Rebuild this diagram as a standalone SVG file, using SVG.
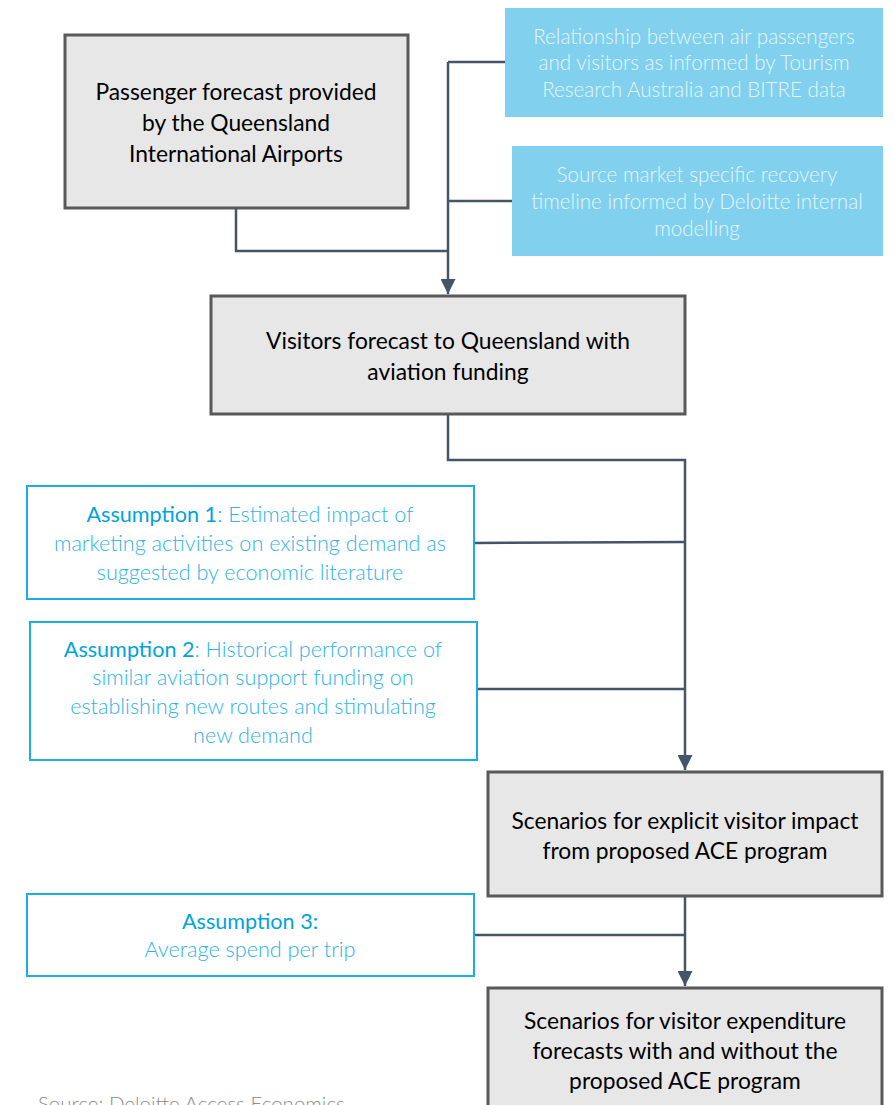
<svg xmlns="http://www.w3.org/2000/svg" width="894" height="1105" viewBox="0 0 894 1105">
<style>
.gray{fill:#e7e7e7;stroke:#595959;stroke-width:3}
.sky{fill:#80d0ee}
.asm{fill:#fff;stroke:#1aaee5;stroke-width:2}
.dark{font-family:Lato,"Liberation Sans",sans-serif;font-size:22.8px;fill:#000;text-anchor:middle}
.lt{font-family:Lato,"Liberation Sans",sans-serif;font-weight:300;font-size:20.6px;fill:#e6f6fc;text-anchor:middle}
.bl{font-family:Lato,"Liberation Sans",sans-serif;font-weight:300;font-size:21.6px;fill:#2db4e8;text-anchor:middle}
.bh{font-weight:400;fill:#00a3e0}
.src{font-family:Lato,"Liberation Sans",sans-serif;font-weight:300;font-size:20.5px;fill:#8c8c8c}
.con{fill:none;stroke:#44546a;stroke-width:2.5}
</style>
<defs>
<marker id="ah" viewBox="0 0 10 10" refX="10" refY="5" markerWidth="6" markerHeight="6" markerUnits="strokeWidth" orient="auto">
<path d="M0,0 L10,5 L0,10 z" fill="#44546a"/>
</marker>
</defs>
<g id="connectors">
<polyline class="con" points="236,208 236,251 448,251"/>
<line class="con" x1="505" y1="62" x2="448" y2="62"/>
<line class="con" x1="512" y1="201" x2="448" y2="201"/>
<line class="con" x1="448" y1="62" x2="448" y2="294" marker-end="url(#ah)"/>
<polyline class="con" points="448,414 448,460 685,460 685,770" marker-end="url(#ah)"/>
<line class="con" x1="474" y1="543" x2="685" y2="542"/>
<line class="con" x1="477" y1="689" x2="685" y2="689"/>
<line class="con" x1="685" y1="896" x2="685" y2="986" marker-end="url(#ah)"/>
<line class="con" x1="474" y1="935" x2="685" y2="935"/>
</g>
<g id="n1">
<rect class="gray" x="65" y="35" width="343" height="173"/>
<text class="dark" x="236" y="100">Passenger forecast provided</text>
<text class="dark" x="236" y="131">by the Queensland</text>
<text class="dark" x="236" y="162">International Airports</text>
</g>
<g id="s1">
<rect class="sky" x="505" y="8" width="378" height="109"/>
<text class="lt" x="694" y="44">Relationship between air passengers</text>
<text class="lt" x="694" y="70">and visitors as informed by Tourism</text>
<text class="lt" x="694" y="97">Research Australia and BITRE data</text>
</g>
<g id="s2">
<rect class="sky" x="512" y="146" width="371" height="110"/>
<text class="lt" x="697" y="182">Source market specific recovery</text>
<text class="lt" x="697" y="209">timeline informed by Deloitte internal</text>
<text class="lt" x="697" y="236">modelling</text>
</g>
<g id="n2">
<rect class="gray" x="211" y="296" width="474" height="118"/>
<text class="dark" x="448" y="349">Visitors forecast to Queensland with</text>
<text class="dark" x="448" y="380">aviation funding</text>
</g>
<g id="a1">
<rect class="asm" x="27" y="486" width="447" height="113"/>
<text class="bl" x="250" y="522"><tspan class="bh">Assumption 1</tspan>: Estimated impact of</text>
<text class="bl" x="250" y="551">marketing activities on existing demand as</text>
<text class="bl" x="250" y="580">suggested by economic literature</text>
</g>
<g id="a2">
<rect class="asm" x="30" y="622" width="447" height="138"/>
<text class="bl" x="253" y="657"><tspan class="bh">Assumption 2</tspan>: Historical performance of</text>
<text class="bl" x="253" y="685">similar aviation support funding on</text>
<text class="bl" x="253" y="714">establishing new routes and stimulating</text>
<text class="bl" x="253" y="743">new demand</text>
</g>
<g id="n3">
<rect class="gray" x="488" y="772" width="394" height="124"/>
<text class="dark" x="685" y="829">Scenarios for explicit visitor impact</text>
<text class="dark" x="685" y="859">from proposed ACE program</text>
</g>
<g id="a3">
<rect class="asm" x="27" y="894" width="447" height="82"/>
<text class="bl" x="250" y="929"><tspan class="bh">Assumption 3:</tspan></text>
<text class="bl" x="250" y="957">Average spend per trip</text>
</g>
<g id="n4">
<rect class="gray" x="488" y="988" width="394" height="130"/>
<text class="dark" x="685" y="1029">Scenarios for visitor expenditure</text>
<text class="dark" x="685" y="1059">forecasts with and without the</text>
<text class="dark" x="685" y="1089">proposed ACE program</text>
</g>
<text class="src" x="38" y="1111">Source: Deloitte Access Economics</text>
</svg>
